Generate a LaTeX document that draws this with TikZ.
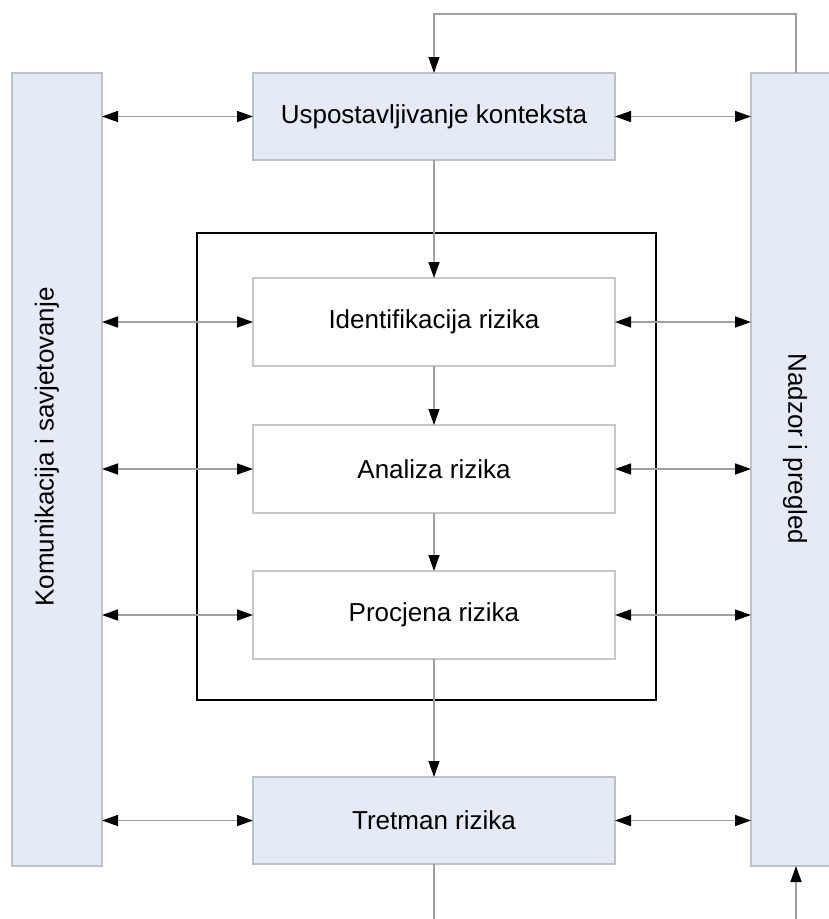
\documentclass[tikz,border=0pt]{standalone}
\usepackage{fontspec}
\setmainfont{Liberation Sans}
\usetikzlibrary{arrows.meta}
\usetikzlibrary{positioning}
\definecolor{boxfill} {RGB}{228,235,246}
\definecolor{boxline} {RGB}{190,194,200}
\definecolor{stepline}{RGB}{200,200,200}
\definecolor{linkgray}{RGB}{160,160,160}

\tikzset{
  stagebox/.style={rectangle, fill=boxfill, draw=boxline, line width=1.5pt,
                   outer sep=0pt, minimum width=362pt, minimum height=87pt,
                   font=\fontsize{26}{30}\selectfont},
  riskbox/.style={rectangle, fill=white, draw=stepline, line width=1.5pt,
                  outer sep=0pt, minimum width=362pt, minimum height=88pt,
                  font=\fontsize{26}{30}\selectfont},
  sidebar/.style={rectangle, fill=boxfill, draw=boxline, line width=1.5pt,
                  outer sep=0pt, minimum width=90pt, minimum height=793pt},
  link/.style={draw=linkgray, line width=1.5pt}
}

\begin{document}
\begin{tikzpicture}[x=1pt, y=-1pt,
    >={Triangle[length=16pt, width=11pt, color=black]}]
            \clip (0,0) rectangle (829,919);
            \fill [white] (0,0) rectangle (829,919);

            % side bars
            \node (kom) [sidebar] at (57,469.5) {};
            \node (komtxt)
              [rotate=90, font=\fontsize{26}{30}\selectfont]
              at (47,447) {Komunikacija i savjetovanje};
            \node (nad) [sidebar] at (796,469.5) {};
            \node (nadtxt)
              [rotate=-90, font=\fontsize{26}{30}\selectfont]
              at (795,449) {Nadzor i pregled};

            % frame round the assessment
            \node (frame)
              [rectangle, draw=black, line width=2.2pt,
               minimum width=459pt, minimum height=467pt]
              at (426.5,466.5) {};

            % stages
            \node (ctx) [stagebox] at (434,116.5) {Uspostavljivanje konteksta};
            \node (ident)
              [below=118pt of ctx, riskbox]
              {Identifikacija rizika};
            \node (anal)
              [below=59pt of ident, riskbox]
              {Analiza rizika};
            \node (proc)
              [below=58pt of anal, riskbox]
              {Procjena rizika};
            \node (tret)
              [below=118pt of proc, stagebox]
              {Tretman rizika};

            % free ends at the lower border
            \coordinate (tretout) at (434,925);
            \coordinate (loopin) at (796,925);

            % edges
            \foreach \n in {ctx,ident,anal,proc,tret} {
              \draw [link, <->] (kom.east |- \n) -- (\n.west);
              \draw [link, <->] (\n.east) -- (nad.west |- \n);
            }
            \path [link, ->]
              (ctx) edge (ident)
              (ident) edge (anal)
              (anal) edge (proc)
              (proc) edge (tret)
              ;
            \draw [link, ->] (nad.north) -- ++(0,-59) -| (ctx.north);
            \draw [link] (tret.south) -- (tretout);
            \draw [link, ->] (loopin) -- (nad.south);
        \end{tikzpicture}
\end{document}
